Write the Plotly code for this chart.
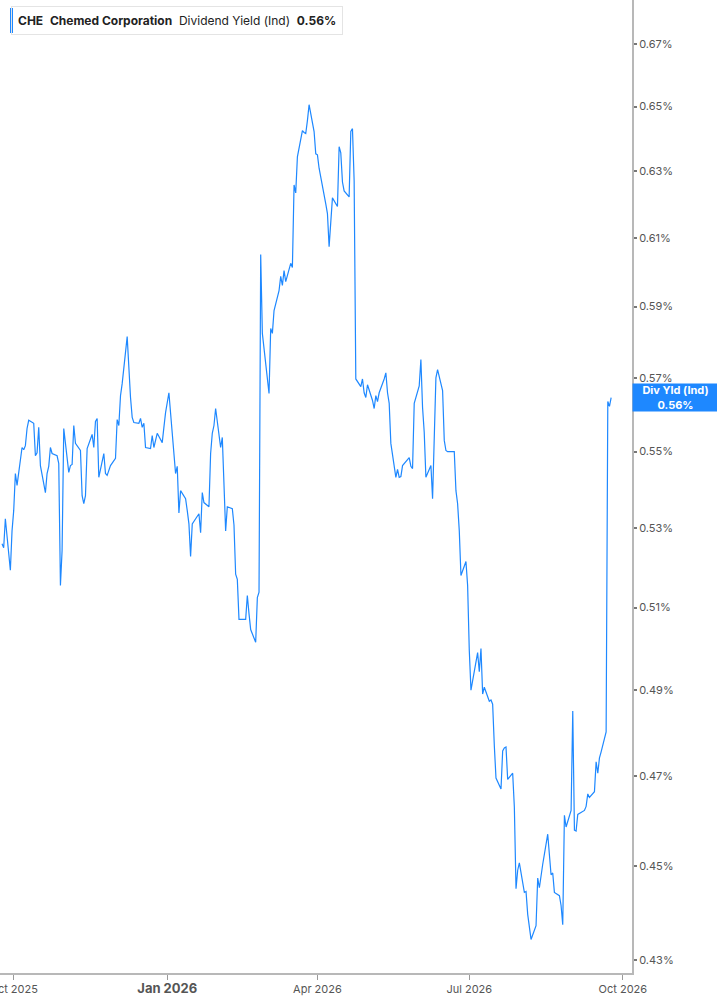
import numpy as np
import pandas as pd
import plotly.graph_objects as go

# market holidays (no trading) in the shown window
holidays = ['2025-11-27', '2025-12-25', '2026-01-01', '2026-01-19', '2026-02-16',
            '2026-04-03', '2026-05-25', '2026-06-19', '2026-07-03', '2026-09-07']

# indicated dividend yield, one value per trading day (fraction, log axis)
div_yield = [
    0.5260, 0.5250, 0.5324, 0.5193, 0.5293, 0.5345, 0.5442, 0.5411, 0.5511, 0.5505,
    0.5516, 0.5562, 0.5584, 0.5576, 0.5489, 0.5497, 0.5565, 0.5463, 0.5392, 0.5442,
    0.5461, 0.5511, 0.5495, 0.5489, 0.5468, 0.5155, 0.5243, 0.5562, 0.5445, 0.5463,
    0.5466, 0.5570, 0.5522, 0.5503, 0.5384, 0.5363, 0.5384, 0.5508, 0.5546, 0.5511,
    0.5581, 0.5589, 0.5432, 0.5495, 0.5442, 0.5437, 0.5463, 0.5482, 0.5586, 0.5570,
    0.5651, 0.5684, 0.5815, 0.5720, 0.5646, 0.5592, 0.5578, 0.5576, 0.5589, 0.5565,
    0.5576, 0.5511, 0.5508, 0.5543, 0.5511, 0.5549, 0.5524, 0.5565, 0.5605, 0.5659,
    0.5476, 0.5442, 0.5461, 0.5339, 0.5397, 0.5376, 0.5345, 0.5311, 0.5228, 0.5311,
    0.5337, 0.5288, 0.5392, 0.5366, 0.5355, 0.5495, 0.5549, 0.5570, 0.5616, 0.5511,
    0.5538, 0.5432, 0.5293, 0.5355, 0.5350, 0.5308, 0.5183, 0.5170, 0.5071, 0.5071,
    0.5130, 0.5085, 0.5046, 0.5015, 0.5125, 0.5138, 0.6051, 0.5824, 0.5695, 0.5657,
    0.5838, 0.5824, 0.5889, 0.5946, 0.5987, 0.5961, 0.6004, 0.5972, 0.6025, 0.6013,
    0.6258, 0.6234, 0.6344, 0.6425, 0.6419, 0.6416, 0.6456, 0.6506, 0.6422, 0.6353,
    0.6350, 0.6309, 0.6201, 0.6172, 0.6074, 0.6145, 0.6219, 0.6193, 0.6375, 0.6356,
    0.6267, 0.6240, 0.6222, 0.6422, 0.6431, 0.6270, 0.5697, 0.5676, 0.5697, 0.5659,
    0.5646, 0.5681, 0.5638, 0.5616, 0.5651, 0.5635, 0.5659, 0.5697, 0.5714, 0.5659,
    0.5630, 0.5522, 0.5432, 0.5453, 0.5432, 0.5434, 0.5463, 0.5484, 0.5461, 0.5455,
    0.5630, 0.5678, 0.5751, 0.5619, 0.5551, 0.5432, 0.5463, 0.5376, 0.5565, 0.5700,
    0.5723, 0.5665, 0.5530, 0.5503, 0.5500, 0.5500, 0.5397, 0.5363, 0.5293, 0.5180,
    0.5215, 0.5155, 0.4995, 0.4900, 0.4990, 0.4944, 0.5000, 0.4891, 0.4907, 0.4874,
    0.4877, 0.4867, 0.4770, 0.4696, 0.4671, 0.4758, 0.4765, 0.4767, 0.4693, 0.4707,
    0.4630, 0.4451, 0.4491, 0.4507, 0.4443, 0.4445, 0.4396, 0.4370, 0.4343, 0.4372,
    0.4474, 0.4453, 0.4474, 0.4504, 0.4570, 0.4531, 0.4481, 0.4485, 0.4443, 0.4436,
    0.4415, 0.4374, 0.4612, 0.4586, 0.4623, 0.4851, 0.4579, 0.4577, 0.4614, 0.4623,
    0.4632, 0.4660, 0.4652, 0.4665, 0.4733, 0.4707, 0.4742, 0.4756, 0.4802, 0.5635,
    0.5622, 0.5646,
]

dates = pd.bdate_range(end='2026-09-24', periods=len(div_yield), freq='C', holidays=holidays)

y_ticks = [0.43, 0.45, 0.47, 0.49, 0.51, 0.53, 0.55, 0.57, 0.59, 0.61, 0.63, 0.65, 0.67]
y_labels = ['%.2f%%' % v for v in y_ticks]
x_ticks = ['2025-10-01', '2026-01-01', '2026-04-01', '2026-07-01', '2026-10-01']
x_labels = ['Oct 2025', '<b><span style="font-size:13px">Jan 2026</span></b>',
            'Apr 2026', 'Jul 2026', 'Oct 2026']

BLUE = '#1e88ff'
FONT = 'Inter, Roboto, sans-serif'

fig = go.Figure()
fig.add_trace(go.Scatter(x=dates, y=div_yield, mode='lines',
                         line=dict(color=BLUE, width=1.2), showlegend=False))

fig.update_layout(
    width=717, height=1005,
    margin=dict(l=0, r=85, t=0, b=32),
    paper_bgcolor='white', plot_bgcolor='white',
    font=dict(family=FONT, size=11, color='#555555'),
)
fig.update_xaxes(
    range=['2025-09-22 19:00', '2026-10-06 12:00'],
    tickmode='array', tickvals=x_ticks, ticktext=x_labels,
    showgrid=False, zeroline=False,
    showline=True, linecolor='#b8b8b8', linewidth=2,
    ticks='outside', ticklen=5, tickcolor='#9a9a9a', tickwidth=1,
    tickfont=dict(size=11, color='#555555'),
    ticklabeloverflow='allow', automargin=False,
)
fig.update_yaxes(
    type='log', side='right',
    range=[-0.36927, -0.16467],
    tickmode='array', tickvals=y_ticks, ticktext=y_labels,
    showgrid=False, zeroline=False,
    showline=True, linecolor='#b8b8b8', linewidth=2,
    ticks='outside', ticklen=3, tickcolor='#777777', tickwidth=2,
    tickfont=dict(size=11, color='#555555'),
    automargin=False,
)

# header box, top left
fig.add_shape(type='rect', xref='paper', yref='paper',
              x0=10 / 632, x1=13 / 632, y0=1 - 33 / 973, y1=1 - 8 / 973,
              fillcolor=BLUE, line_width=0)
fig.add_annotation(
    xref='paper', yref='paper', x=11 / 632, y=1 - 20.5 / 973,
    xanchor='left', yanchor='middle', showarrow=False,
    text='<b>CHE</b>  <b>Chemed Corporation</b>  Dividend Yield (Ind)  <b>0.56%</b>',
    font=dict(family=FONT, size=12, color='#222222'),
    bgcolor='rgba(255,255,255,0)', bordercolor='#e4e4e4', borderwidth=1, borderpad=6,
)

# last value tag on the right axis
fig.add_annotation(
    xref='paper', yref='y', x=1, y=np.log10(div_yield[-1]),
    xanchor='left', yanchor='middle', showarrow=False,
    text='<b>Div Yld (Ind)</b><br><b>0.56%</b>',
    font=dict(family=FONT, size=11, color='white'),
    bgcolor=BLUE, borderpad=2, width=81, height=23, align='center',
)

fig.write_html('out.html', config={'displayModeBar': False},
               post_script="document.body.style.margin='0';document.body.style.overflow='hidden';")
